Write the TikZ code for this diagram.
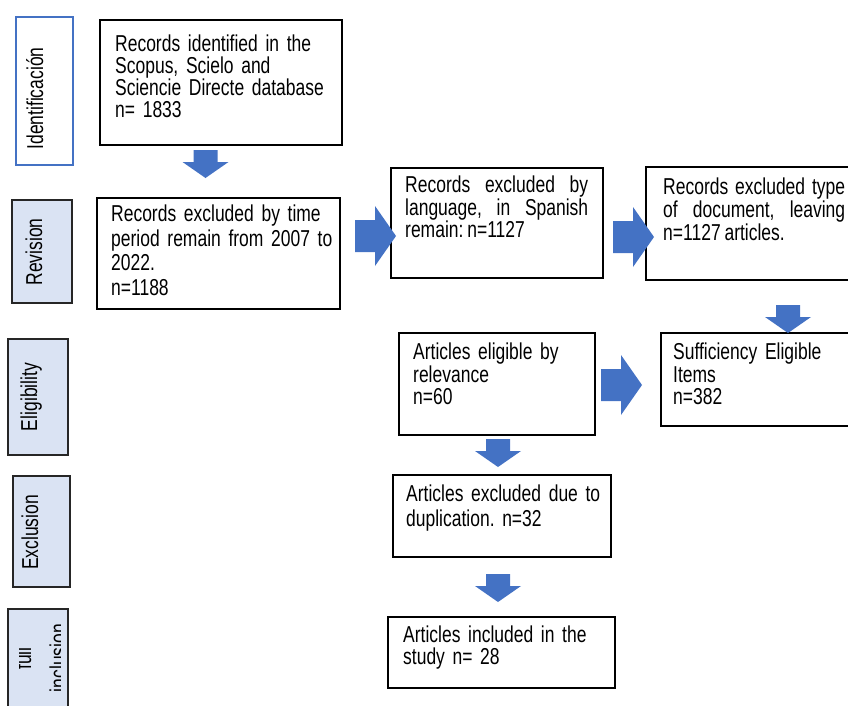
\documentclass[tikz,border=0pt]{standalone}
\usepackage{fontspec}
\setmainfont{Liberation Sans}[FakeStretch=0.76, WordSpace=0.8]
\usetikzlibrary{positioning}
\definecolor{arrowblue}{HTML}{4472C4}
\definecolor{stagefill}{HTML}{DAE3F3}
\definecolor{stageline}{HTML}{262626}
\newcommand{\fsize}{\fontsize{23pt}{22pt}\selectfont}
\hyphenpenalty=10000
\frenchspacing

\tikzset{
	recbox/.style = {draw=black, line width=1.3pt, inner sep=0pt},
	rectext/.style = {anchor=north west, inner sep=0pt, align=left, font=\fontsize{23pt}{#1}\selectfont},
	rectext/.default = 22pt,
	stage/.style = {draw=stageline, fill=stagefill, line width=1.3pt, inner sep=0pt},
	stagetext/.style = {rotate=90, anchor=base, inner sep=0pt, font=\fsize},
	blkdown/.pic = {\fill[arrowblue] (-12,0) -- (12,0) -- (12,12) -- (23,12) -- (0,28) -- (-23,12) -- (-12,12) -- cycle;},
	blkright/.pic = {\fill[arrowblue] (0,-16) -- (20,-16) -- (20,-30) -- (41,0) -- (20,30) -- (20,16) -- (0,16) -- cycle;}
}

\begin{document}
\begin{tikzpicture}[x=1pt, y=-1pt]
		\useasboundingbox (0,0) rectangle (848,705);
		\clip (0,0) rectangle (848,705);
		% stages
		\node[stage, draw=arrowblue, fill=white, minimum width=57pt, minimum height=148pt] (ident) at (44.5,91) {};
		\node[stage, minimum width=60pt, minimum height=103pt] (revis) at (42,251.5) {};
		\node[stage, minimum width=60pt, minimum height=116pt] (elig) at (38,397) {};
		\node[stage, minimum width=57pt, minimum height=111pt] (excl) at (41.5,531.5) {};
		\node[stage, minimum width=60pt, minimum height=104pt] (incl) at (38,661) {};
		\node[stagetext] (identlbl) at (43,98.5) {Identificación};
		\node[stagetext] (revislbl) at (42,252) {Revision};
		\node[stagetext] (eliglbl) at (37,397) {Eligibility};
		\node[stagetext] (excllbl) at (38,532.5) {Exclusion};
		\begin{scope}
			\clip (19,612) rectangle (60,705);
			\node[stagetext] (incllbla) at (31,658.5) {full};
			\node[stagetext] (incllblb) at (66,658) {inclusion};
		\end{scope}
		% records
		\node[recbox, minimum width=242pt, minimum height=125pt] (found) at (221,82.5) {};
		\node[rectext, text width=230pt] (foundtxt) at (115,35) {Records identified in the\\Scopus, Scielo and\\Sciencie Directe database\\n= 1833};
		\node[recbox, minimum width=243pt, minimum height=111pt] (period) at (218.5,253.5) {};
		\node[rectext=24.5pt, text width=240pt] (periodtxt) at (111,205) {Records excluded by time\\period remain from 2007 to\\2022.\\n=1188};
		\node[recbox, minimum width=212pt, minimum height=110pt] (lang) at (497,223) {};
		\node[rectext=22.5pt, text width=183pt, align=justify] (langtxt) at (405,176) {Records excluded by\linebreak language, in Spanish\linebreak remain: n=1127};
		\node[recbox, minimum width=210pt, minimum height=113pt] (doctype) at (751,223.5) {};
		\node[rectext=23pt, text width=182pt, align=justify] (doctypetxt) at (663,178) {Records excluded type\linebreak of document, leaving\linebreak n=1127 articles.};
		\node[recbox, minimum width=196pt, minimum height=102pt] (relev) at (497,384) {};
		\node[rectext=22.5pt, text width=180pt] (relevtxt) at (413,343) {Articles eligible by\\relevance\\n=60};
		\node[recbox, minimum width=195pt, minimum height=93pt] (suff) at (758.5,379.5) {};
		\node[rectext=22.5pt, text width=175pt] (sufftxt) at (673,343) {Sufficiency Eligible\\Items\\n=382};
		\node[recbox, minimum width=218pt, minimum height=82pt] (dupl) at (502,516) {};
		\node[rectext=25pt, text width=205pt] (dupltxt) at (406,485) {Articles excluded due to\\duplication. n=32};
		\node[recbox, minimum width=227pt, minimum height=71pt] (incd) at (501.5,652.5) {};
		\node[rectext, text width=210pt] (incdtxt) at (403,626) {Articles included in the\\study n= 28};
		% block arrows
		\pic at (205.5,150) {blkdown};
		\pic at (788,305) {blkdown};
		\pic at (498,439) {blkdown};
		\pic at (498,574) {blkdown};
		\pic at (355,236) {blkright};
		\pic at (613,237) {blkright};
		\pic at (601,385) {blkright};
	\end{tikzpicture}
\end{document}
